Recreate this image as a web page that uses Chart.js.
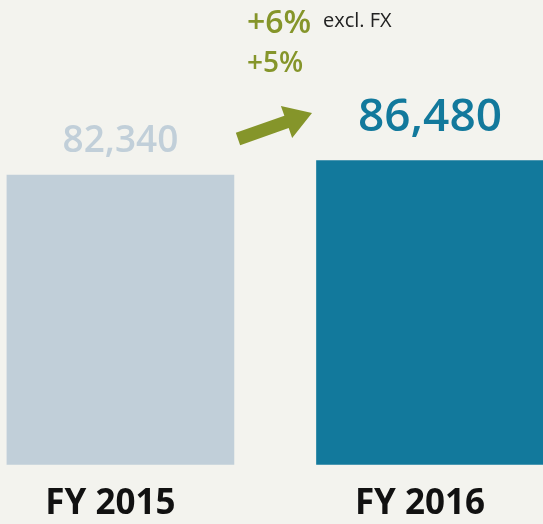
<!DOCTYPE html>
<html>
<head>
<meta charset="utf-8">
<script src="https://cdn.jsdelivr.net/npm/chart.js@4.4.1/dist/chart.umd.min.js"></script>
<style>
  html, body { margin: 0; padding: 0; background: #f3f3ee; }
  #wrap { width: 543px; height: 524px; position: relative; }
</style>
</head>
<body>
<div id="wrap"><canvas id="chart"></canvas></div>
<script>
// Revenue comparison, two fiscal years
const categories = ['FY 2015', 'FY 2016'];
const values = [82340, 86480];
const valueLabels = ['82,340', '86,480'];
const barColors = ['#c1cfd9', '#12799c'];
const growthLabels = ['+6%', '+5%'];
const growthNote = 'excl. FX';

const GREEN = '#85952a';
const FONT = "'Open Sans', 'Noto Sans', sans-serif";

// value labels above each bar, the latest year drawn larger
const valueLabelPlugin = {
  id: 'valueLabels',
  afterDatasetsDraw(chart) {
    const ctx = chart.ctx;
    const meta = chart.getDatasetMeta(0);
    ctx.save();
    ctx.textAlign = 'center';
    ctx.textBaseline = 'alphabetic';
    meta.data.forEach((bar, i) => {
      const last = i === meta.data.length - 1;
      ctx.font = `600 ${last ? 46 : 37}px ${FONT}`;
      ctx.fillStyle = barColors[i];
      ctx.fillText(valueLabels[i], bar.x, bar.y - (last ? 30 : 23));
    });
    ctx.restore();
  }
};

// growth arrow and percentages between the bars
const growthPlugin = {
  id: 'growth',
  afterDraw(chart) {
    const ctx = chart.ctx;
    ctx.save();

    const tail = { x: 238, y: 139 };
    const tip = { x: 312, y: 113 };
    const dx = tip.x - tail.x, dy = tip.y - tail.y;
    const len = Math.hypot(dx, dy);
    const ux = dx / len, uy = dy / len;
    const nx = -uy, ny = ux;
    const shaftHalf = 6.5, headHalf = 17, headLen = 27;
    const bx = tip.x - ux * headLen, by = tip.y - uy * headLen;
    ctx.fillStyle = GREEN;
    ctx.beginPath();
    ctx.moveTo(tail.x + nx * shaftHalf, tail.y + ny * shaftHalf);
    ctx.lineTo(bx + nx * shaftHalf, by + ny * shaftHalf);
    ctx.lineTo(bx + nx * headHalf, by + ny * headHalf);
    ctx.lineTo(tip.x, tip.y);
    ctx.lineTo(bx - nx * headHalf, by - ny * headHalf);
    ctx.lineTo(bx - nx * shaftHalf, by - ny * shaftHalf);
    ctx.lineTo(tail.x - nx * shaftHalf, tail.y - ny * shaftHalf);
    ctx.closePath();
    ctx.fill();

    ctx.textAlign = 'left';
    ctx.textBaseline = 'alphabetic';
    ctx.font = `600 32px ${FONT}`;
    ctx.fillText(growthLabels[0], 247, 33);
    ctx.font = `600 28px ${FONT}`;
    ctx.fillText(growthLabels[1], 247, 72);
    ctx.font = `20px ${FONT}`;
    ctx.fillStyle = '#222222';
    ctx.fillText(growthNote, 323, 27);
    ctx.restore();
  }
};

new Chart(document.getElementById('chart'), {
  type: 'bar',
  data: {
    datasets: [{
      data: values.map((v, i) => ({ x: i, y: v })),
      backgroundColor: barColors,
      borderWidth: 0,
      barThickness: 227
    }]
  },
  options: {
    responsive: true,
    maintainAspectRatio: false,
    animation: false,
    layout: { padding: { top: 0, left: 0, right: 0, bottom: -19 } },
    scales: {
      x: {
        type: 'linear',
        offset: false,
        min: -0.389,
        max: 1.365,
        afterBuildTicks(axis) {
          axis.ticks = categories.map((c, i) => ({ value: i }));
        },
        grid: { display: false, drawTicks: false, tickLength: 0 },
        border: { display: false },
        ticks: {
          color: '#111111',
          padding: 19,
          labelOffset: -10,
          maxRotation: 0,
          font: { family: FONT, size: 35, weight: 'bold', lineHeight: 1.15 },
          callback: (v) => categories[v]
        }
      },
      y: {
        display: false,
        min: 0,
        max: 132145
      }
    },
    plugins: {
      legend: { display: false },
      tooltip: { enabled: false }
    }
  },
  plugins: [valueLabelPlugin, growthPlugin]
});
</script>
</body>
</html>
